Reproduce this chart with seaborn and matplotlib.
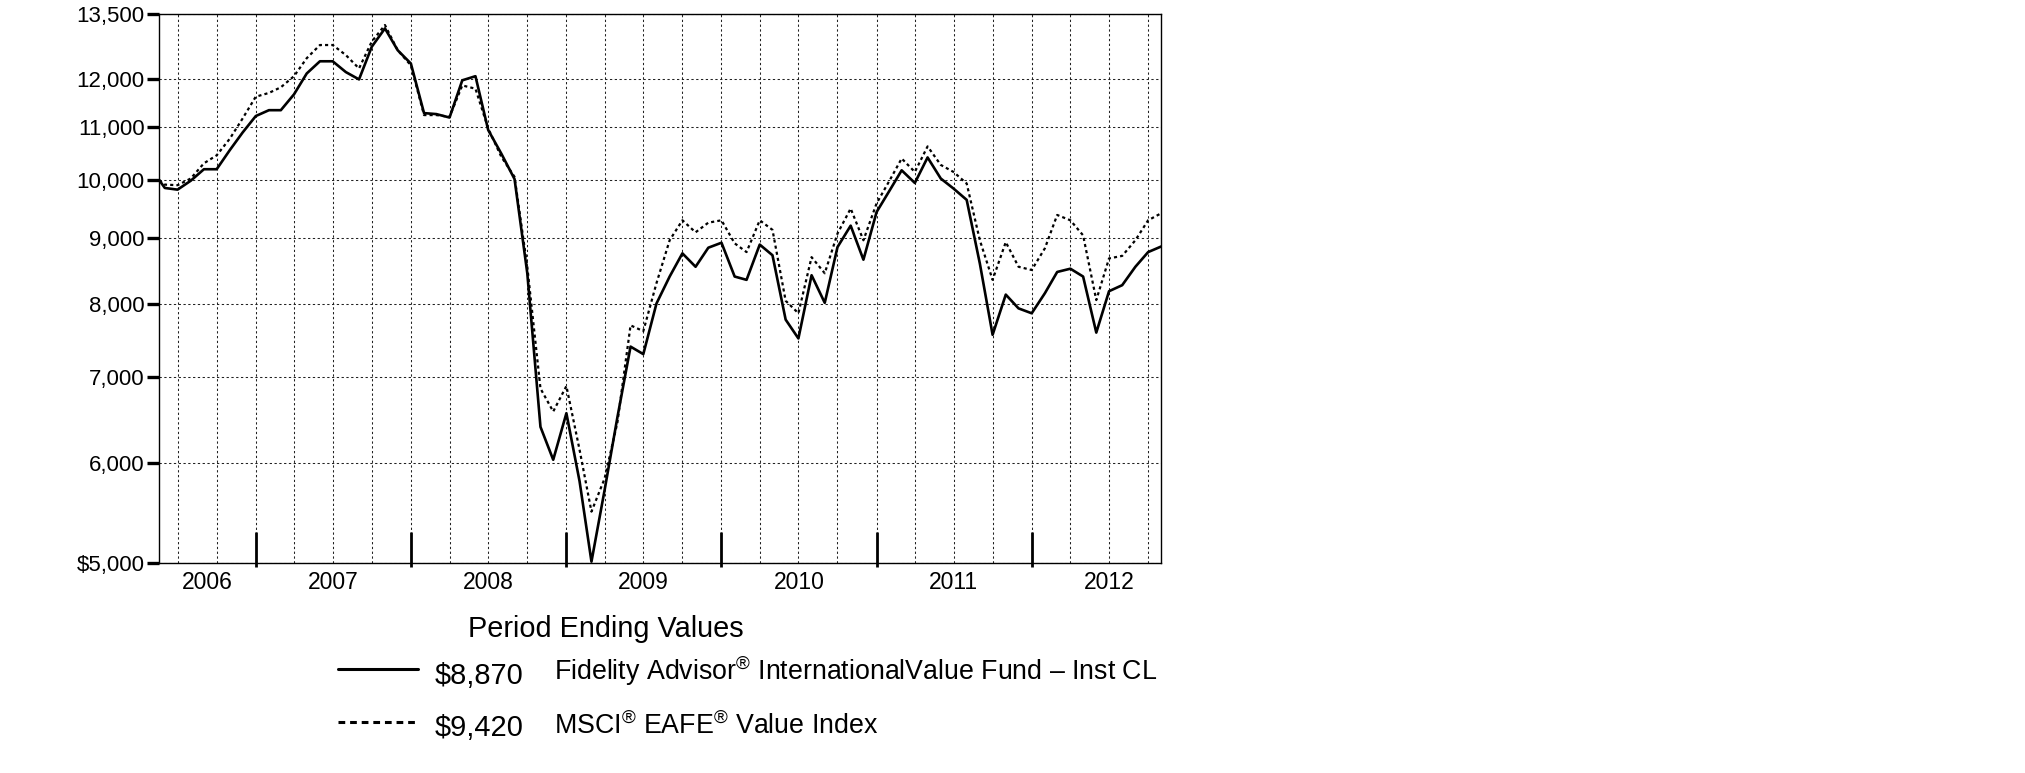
import numpy as np
import pandas as pd
import matplotlib
matplotlib.use("Agg")
import matplotlib.pyplot as plt
from matplotlib.lines import Line2D
from matplotlib.ticker import FixedLocator, NullLocator, NullFormatter, FixedFormatter
import seaborn as sns

# ---------------- data ----------------
start_date = "2006-05-18"
try:
    month_ends = pd.date_range("2006-05-31", "2012-10-31", freq="ME")
    quarter_ends = pd.date_range("2006-06-30", "2012-09-30", freq="QE")
except Exception:
    month_ends = pd.date_range("2006-05-31", "2012-10-31", freq="M")
    quarter_ends = pd.date_range("2006-06-30", "2012-09-30", freq="Q")
dates = pd.DatetimeIndex([pd.Timestamp(start_date)]).append(month_ends)

fund_values = [
    10000, 9860, 9830, 9990, 10200, 10200, 10560, 10900, 11230,          # 2006
    11350, 11350, 11680, 12130, 12400, 12400, 12160, 12000, 12730, 13160, 12650, 12350,  # 2007
    11290, 11270, 11200, 11980, 12070, 10950, 10490, 10020, 8450, 6400, 6030, 6560,      # 2008
    5800, 5015, 5710, 6510, 7400, 7300, 8000, 8400, 8760, 8550, 8850, 8930,              # 2009
    8400, 8350, 8900, 8730, 7770, 7510, 8420, 8010, 8860, 9210, 8660, 9440,              # 2010
    9820, 10180, 9950, 10420, 10030, 9850, 9650, 8600, 7560, 8130, 7930, 7860,           # 2011
    8150, 8470, 8520, 8400, 7590, 8180, 8270, 8550, 8780, 8870,                          # 2012
]
index_values = [
    10000, 9920, 9910, 10030, 10310, 10460, 10780, 11180, 11630,
    11710, 11830, 12070, 12470, 12770, 12770, 12540, 12240, 12850, 13240, 12650, 12310,
    11250, 11250, 11215, 11870, 11800, 10980, 10430, 10060, 8550, 6860, 6580, 6890,
    6140, 5490, 5830, 6450, 7690, 7610, 8300, 8970, 9300, 9100, 9260, 9300,
    8920, 8780, 9300, 9140, 8040, 7860, 8700, 8450, 9080, 9500, 8970, 9590,
    10000, 10400, 10150, 10630, 10280, 10150, 9940, 8970, 8350, 8940, 8550, 8500,
    8840, 9390, 9300, 9050, 8050, 8680, 8720, 8970, 9300, 9420,
]

y_ticks = [5000, 6000, 7000, 8000, 9000, 10000, 11000, 12000, 13500]
y_tick_labels = ["$5,000", "6,000", "7,000", "8,000", "9,000", "10,000",
                 "11,000", "12,000", "13,500"]
year_labels = ["2006", "2007", "2008", "2009", "2010", "2011", "2012"]
year_label_dates = ["2006-09-08", "2007-07-01", "2008-07-01", "2009-07-01",
                    "2010-07-01", "2011-07-01", "2012-07-01"]
year_boundaries = ["2006-12-31", "2007-12-31", "2008-12-31", "2009-12-31",
                   "2010-12-31", "2011-12-31"]
end_date = "2012-10-31"

legend_title = "Period Ending Values"
legend_values = ["$8,870", "$9,420"]
legend_labels = [r"Fidelity Advisor$^{\circledR}$ InternationalValue Fund – Inst CL",
                 r"MSCI$^{\circledR}$ EAFE$^{\circledR}$ Value Index"]

df = pd.DataFrame({"date": dates, "fund": fund_values, "index": index_values})

# ---------------- style ----------------
sns.set_style("white")
plt.rcParams["font.family"] = ["Liberation Sans", "DejaVu Sans"]
plt.rcParams["mathtext.fontset"] = "custom"
plt.rcParams["mathtext.rm"] = "Liberation Sans"
plt.rcParams["mathtext.it"] = "Liberation Sans"
plt.rcParams["mathtext.bf"] = "Liberation Sans"

W, H = 2025, 773
fig = plt.figure(figsize=(W / 100, H / 100), dpi=100)
fig.patch.set_facecolor("white")
ax = fig.add_axes([159.3 / W, 1 - 563.3 / H, (1161.3 - 159.3) / W, (563.3 - 14.3) / H])

sns.lineplot(data=df, x="date", y="fund", ax=ax, color="black", lw=1.9, zorder=4)
sns.lineplot(data=df, x="date", y="index", ax=ax, color="black", lw=1.6,
             linestyle=(0, (1.4, 1.4)), zorder=3)

# y axis (log)
ax.set_yscale("log")
ax.set_ylim(5000, 13500)
ax.yaxis.set_major_locator(FixedLocator(y_ticks))
ax.yaxis.set_major_formatter(FixedFormatter(y_tick_labels))
ax.yaxis.set_minor_locator(NullLocator())
ax.yaxis.set_minor_formatter(NullFormatter())
ax.tick_params(axis="y", which="major", direction="out", length=9, width=2.4,
               labelsize=16, pad=1.5, colors="black", left=True)

# x axis
ax.set_xlim(pd.Timestamp(start_date), pd.Timestamp(end_date))
ax.xaxis.set_major_locator(FixedLocator([matplotlib.dates.date2num(d) for d in quarter_ends]))
ax.xaxis.set_major_formatter(NullFormatter())
ax.xaxis.set_minor_locator(FixedLocator([matplotlib.dates.date2num(pd.Timestamp(d)) for d in year_label_dates]))
ax.xaxis.set_minor_formatter(FixedFormatter(year_labels))
ax.tick_params(axis="x", which="major", length=0)
ax.tick_params(axis="x", which="minor", length=0, labelsize=16.5, pad=5.5, colors="black")

ax.set_xlabel("")
ax.set_ylabel("")

# grid
ax.grid(True, which="major", axis="both", color="#222222", lw=0.75,
        linestyle=(0, (2.2, 2.4)))
ax.set_axisbelow(True)

for s in ax.spines.values():
    s.set_visible(True)
    s.set_color("black")
    s.set_linewidth(1.0)

# year boundary marks
ax.vlines([pd.Timestamp(d) for d in year_boundaries], -0.0067, 0.057,
          transform=ax.get_xaxis_transform(), color="black", lw=2.0,
          clip_on=False, zorder=5)

# ---------------- legend ----------------
fig.text(468.3 / W, 1 - 637.3 / H, legend_title, fontsize=20.8,
         ha="left", va="baseline", color="black")
line_y = [669, 722]
val_base = [683.5, 736.5]
lab_base = [679.5, 733.5]
styles = [dict(ls="-", lw=2.2), dict(ls=(0, (2.2, 1.6)), lw=2.2)]
for i in range(2):
    fig.add_artist(Line2D([338 / W, 418 / W], [1 - line_y[i] / H] * 2,
                          transform=fig.transFigure, color="black", **styles[i]))
    fig.text(435 / W, 1 - val_base[i] / H, legend_values[i], fontsize=20.9,
             ha="left", va="baseline", color="black")
    fig.text(554.3 / W, 1 - lab_base[i] / H, legend_labels[i], fontsize=19.3,
             ha="left", va="baseline", color="black")

fig.savefig("out.png", dpi=100, facecolor="white")
